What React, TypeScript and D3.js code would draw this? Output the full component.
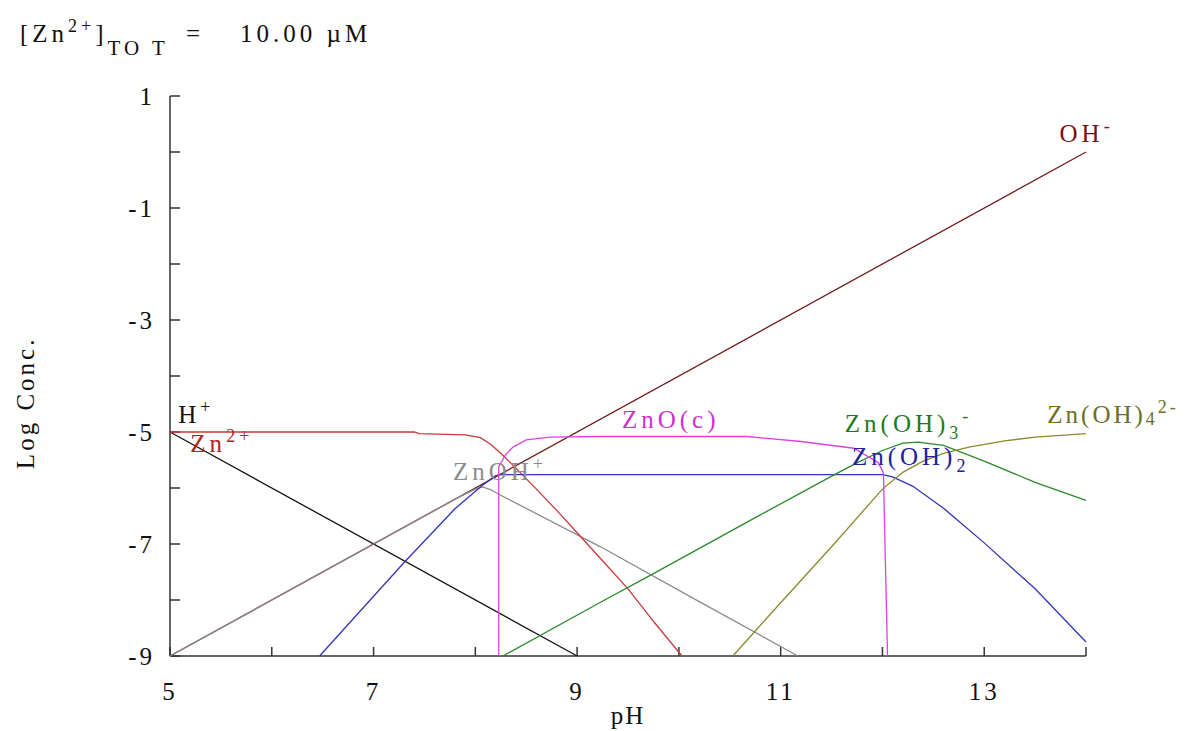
import React from "react";
import * as d3 from "d3";

// pH axis and log concentration axis
const phTicks = [5, 6, 7, 8, 9, 10, 11, 12, 13, 14];
const phLabels = [5, 7, 9, 11, 13];
const logTicks = [1, 0, -1, -2, -3, -4, -5, -6, -7, -8, -9];
const logLabels = [1, -1, -3, -5, -7, -9];

// species curves: [pH, log conc]
const hPlus: [number, number][] = [[5, -5], [9, -9]];
const ohMinus: [number, number][] = [[5, -9], [14, 0]];
const zn2: [number, number][] = [
  [5, -5], [7.4, -5.0], [7.45, -5.03], [7.9, -5.05], [8.05, -5.1], [8.15, -5.22],
  [8.25, -5.38], [8.4, -5.65], [8.6, -6.02], [8.8, -6.4], [9.0, -6.8], [9.25, -7.3],
  [9.5, -7.8], [9.75, -8.38], [10.03, -9],
];
const znOH: [number, number][] = [
  [5, -9], [6, -8], [7, -7], [7.8, -6.2], [8.0, -6.02], [8.07, -5.98], [8.15, -6.03],
  [8.24, -6.12], [9.23, -7.05], [10.2, -8.03], [11.17, -9],
];
const znOH2: [number, number][] = [
  [6.47, -9], [7.3, -7.33], [7.8, -6.37], [8.07, -5.95], [8.2, -5.78], [8.25, -5.76],
  [12.0, -5.76], [12.1, -5.8], [12.3, -5.97], [12.6, -6.36], [13.0, -6.98], [13.5, -7.8],
  [14, -8.75],
];
const znO: [number, number][] = [
  [8.23, -9], [8.23, -5.62], [8.3, -5.4], [8.37, -5.27], [8.5, -5.14], [8.73, -5.09],
  [9.23, -5.08], [10.67, -5.08], [11.2, -5.17], [11.72, -5.29], [11.96, -5.55],
  [12.01, -5.73], [12.03, -7.4], [12.05, -9],
];
const znOH3: [number, number][] = [
  [8.27, -9], [9.23, -8.04], [9.75, -7.53], [10.8, -6.48], [11.52, -5.77], [11.75, -5.55],
  [12.0, -5.33], [12.2, -5.2], [12.35, -5.18], [12.6, -5.24], [13.0, -5.52], [13.5, -5.9],
  [14, -6.22],
];
const znOH4: [number, number][] = [
  [10.53, -9], [11.0, -8.05], [11.5, -7.05], [12.0, -6.02], [12.2, -5.72], [12.4, -5.52],
  [12.6, -5.38], [12.85, -5.27], [13.2, -5.16], [13.5, -5.09], [14, -5.03],
];

const series = [
  { name: "OH", data: ohMinus, color: "#741c1c" },
  { name: "H", data: hPlus, color: "#111111" },
  { name: "ZnOH", data: znOH, color: "#8c8c8c" },
  { name: "Zn", data: zn2, color: "#c83a3a" },
  { name: "ZnOH2", data: znOH2, color: "#3434b8" },
  { name: "ZnOH3", data: znOH3, color: "#2a8a2a" },
  { name: "ZnOH4", data: znOH4, color: "#8a8a2c" },
  { name: "ZnO", data: znO, color: "#e040e0" },
];

type Part = [string, "" | "sup" | "sub" | "low"];
// curve labels anchored at [pH, log conc] (left edge, baseline)
const labels: { at: [number, number]; color: string; ls: number; parts: Part[] }[] = [
  { at: [5.08, -4.84], color: "#111111", ls: 4, parts: [["H", ""], ["+", "sup"]] },
  { at: [5.2, -5.36], color: "#b82020", ls: 4, parts: [["Zn", ""], ["2+", "sup"]] },
  { at: [7.78, -5.86], color: "#8c8c8c", ls: 4, parts: [["ZnOH", ""], ["+", "sup"]] },
  { at: [9.44, -4.93], color: "#d030d0", ls: 4, parts: [["ZnO(c)", ""]] },
  { at: [11.63, -5.0], color: "#1f7a1f", ls: 4, parts: [["Zn(OH)", ""], ["3", "sub"], ["-", "sup"]] },
  { at: [11.7, -5.59], color: "#2020a0", ls: 4, parts: [["Zn(OH)", ""], ["2", "sub"]] },
  { at: [13.62, -4.84], color: "#6e6e1e", ls: 3, parts: [["Zn(OH)", ""], ["4", "low"], ["2-", "sup"]] },
  { at: [13.74, 0.18], color: "#7a1010", ls: 4, parts: [["OH", ""], ["-", "sup"]] },
];

const W = 1198;
const H = 731;
const font = "'Liberation Serif', 'Times New Roman', serif";
const fs = 25;

const x = d3.scaleLinear().domain([5, 14]).range([170, 1086]);
const y = d3.scaleLinear().domain([-9, 1]).range([656, 96]);

const line = d3
  .line<[number, number]>()
  .x((d) => x(d[0]))
  .y((d) => y(d[1]));

function renderParts(parts: Part[], size: number) {
  let prev = 0;
  return parts.map(([t, kind], i) => {
    const shift = kind === "sup" ? -10 : kind === "sub" ? 7 : kind === "low" ? 2 : 0;
    const dy = shift - prev;
    prev = shift;
    return (
      <tspan key={i} dy={dy} fontSize={kind ? size * 0.72 : size}>
        {t}
      </tspan>
    );
  });
}

export default function App() {
  return (
    <svg
      width={W}
      height={H}
      style={{ position: "absolute", left: 0, top: 0, background: "#fff" }}
      fontFamily={font}
    >
      {/* title */}
      <text x={20} y={42} fontSize={fs} letterSpacing={4} fill="#111">
        [Zn
        <tspan dy={-10} fontSize={18}>2+</tspan>
        <tspan dy={10}>]</tspan>
        <tspan dy={13} fontSize={21} letterSpacing={4}>TO T</tspan>
      </text>
      <text x={186} y={42} fontSize={fs} fill="#111">=</text>
      <text x={240} y={42} fontSize={fs} letterSpacing={4} fill="#111">10.00 µM</text>

      {/* axes */}
      <g stroke="#333" strokeWidth={1.5} fill="none">
        <line x1={x(5)} x2={x(14)} y1={y(-9)} y2={y(-9)} />
        <line x1={x(5)} x2={x(5)} y1={y(-9)} y2={y(1)} />
        {phTicks.map((t) => (
          <line key={t} x1={x(t)} x2={x(t)} y1={y(-9)} y2={y(-9) - 9} />
        ))}
        {logTicks.map((t) => (
          <line key={t} x1={x(5)} x2={x(5) + 10} y1={y(t)} y2={y(t)} />
        ))}
      </g>
      {phLabels.map((t) => (
        <text key={t} x={x(t)} y={y(-9) + 44} textAnchor="middle" fontSize={fs} letterSpacing={3} fill="#111">
          {t}
        </text>
      ))}
      {logLabels.map((t) => (
        <text key={t} x={x(5) - 15} y={y(t) + 9} textAnchor="end" fontSize={fs} letterSpacing={3} fill="#111">
          {t}
        </text>
      ))}
      <text x={x(9.5)} y={724} textAnchor="middle" fontSize={fs} letterSpacing={2} fill="#111">pH</text>
      <text
        transform={`translate(34, ${y(-4.48)}) rotate(-90)`}
        textAnchor="middle"
        fontSize={fs}
        letterSpacing={3}
        fill="#111"
      >
        Log Conc.
      </text>

      {/* curves */}
      {series.map((s) => (
        <path key={s.name} d={line(s.data) ?? ""} fill="none" stroke={s.color} strokeWidth={1.3} />
      ))}

      {/* curve labels */}
      {labels.map((l, i) => (
        <text key={i} x={x(l.at[0])} y={y(l.at[1])} fontSize={fs} letterSpacing={l.ls} fill={l.color}>
          {renderParts(l.parts, fs)}
        </text>
      ))}
    </svg>
  );
}
